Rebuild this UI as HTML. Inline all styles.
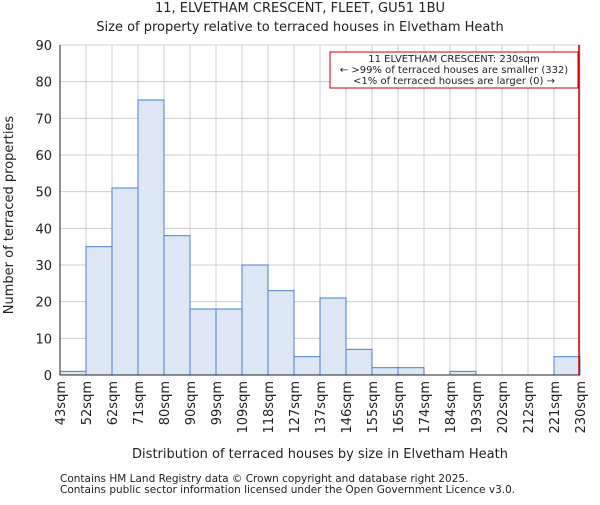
<!DOCTYPE html>
<html><head><meta charset="utf-8"><style>
body{margin:0;background:#fff;}
svg text{font-family:"DejaVu Sans","Liberation Sans",sans-serif;fill:#222;}
</style></head><body>
<svg id="chart" width="600" height="500">
<g id="grid"></g>
<g id="bars"></g>
<g id="axes"></g>
<text x="300" y="12" text-anchor="middle" font-size="13">11, ELVETHAM CRESCENT, FLEET, GU51 1BU</text>
<text x="300" y="31" text-anchor="middle" font-size="13">Size of property relative to terraced houses in Elvetham Heath</text>
<text x="320" y="458" text-anchor="middle" font-size="13">Distribution of terraced houses by size in Elvetham Heath</text>
<text transform="translate(13,215) rotate(-90)" text-anchor="middle" font-size="13">Number of terraced properties</text>
<rect x="330" y="52" width="248" height="36" fill="#fff" stroke="#cc0000" stroke-width="1"/>
<text x="454" y="62" text-anchor="middle" font-size="10">11 ELVETHAM CRESCENT: 230sqm</text>
<text x="454" y="73" text-anchor="middle" font-size="10">← &gt;99% of terraced houses are smaller (332)</text>
<text x="454" y="84" text-anchor="middle" font-size="10">&lt;1% of terraced houses are larger (0) →</text>
<text x="60" y="482" font-size="10.5" fill="#555">Contains HM Land Registry data © Crown copyright and database right 2025.</text>
<text x="60" y="493" font-size="10.5" fill="#555">Contains public sector information licensed under the Open Government Licence v3.0.</text>
</svg>
<script>
const categories=["43sqm","52sqm","62sqm","71sqm","80sqm","90sqm","99sqm","109sqm","118sqm","127sqm","137sqm","146sqm","155sqm","165sqm","174sqm","184sqm","193sqm","202sqm","212sqm","221sqm","230sqm"];
const counts=[1,35,51,75,38,18,18,30,23,5,21,7,2,2,0,1,0,0,0,5];
const yTicks=[0,10,20,30,40,50,60,70,80,90];
const marker=230;
const NS="http://www.w3.org/2000/svg";
const L=60,R=580,T=45,B=375,YMAX=90;
const nb=counts.length, bw=(R-L)/nb;
const y=v=>B-(v/YMAX)*(B-T);
const x=i=>L+i*bw;
function mk(tag,attrs,parent){const e=document.createElementNS(NS,tag);for(const k in attrs)e.setAttribute(k,attrs[k]);document.getElementById(parent).appendChild(e);return e;}
yTicks.forEach(t=>{
 const g=mk('line',{x1:L,x2:R,y1:y(t),y2:y(t),stroke:'#ccc','stroke-width':1},'grid');
 
 
 const tx=mk('text',{x:L-8,y:y(t)+5,'text-anchor':'end','font-size':13},'axes');tx.textContent=t;
 
 
});
categories.forEach((c,i)=>{
 const g=mk('line',{x1:x(i),x2:x(i),y1:T,y2:B,stroke:'#ccc','stroke-width':1},'grid');
 
 
 const tx=mk('text',{transform:`translate(${x(i)+5},${B+6}) rotate(-90)`,'text-anchor':'end','font-size':13},'axes');tx.textContent=c;
 
 
});
counts.forEach((v,i)=>{
 if(v<=0)return;
 const r=mk('rect',{x:x(i),y:y(v),width:bw,height:B-y(v),fill:'#dce6f4',stroke:'#4a7fcc','stroke-width':1},'bars');
 
 
});
const a1=mk('line',{x1:L,x2:L,y1:T,y2:B,stroke:'#222'},'axes');


const a2=mk('line',{x1:L,x2:R,y1:B,y2:B,stroke:'#222'},'axes');


const mx=L+(marker-43)/(230-43)*(R-L)-1;
const ml=mk('line',{x1:mx,x2:mx,y1:T,y2:B,stroke:'#cc0000','stroke-width':1.5},'axes');


</script>
</body></html>
